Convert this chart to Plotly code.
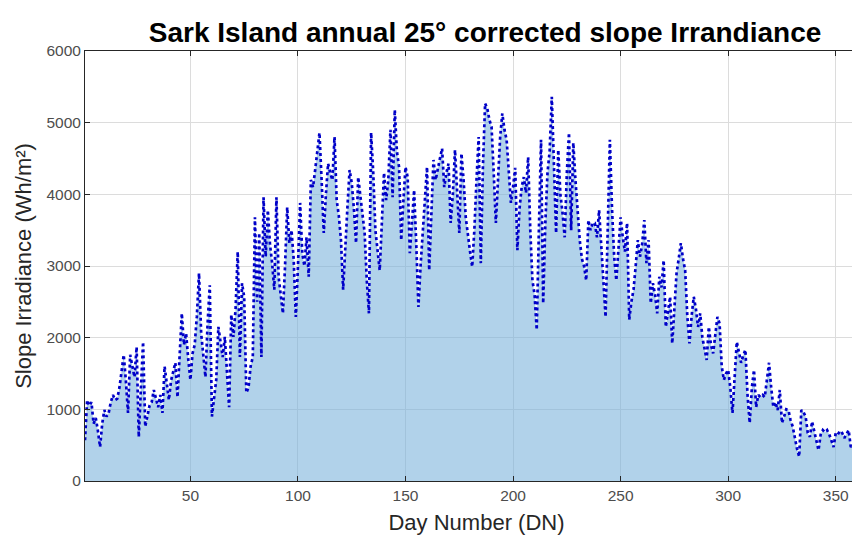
import plotly.graph_objects as go

title_text = "Sark Island annual 25° corrected slope Irrandiance"
x_label = "Day Number (DN)"
y_label = "Slope Irradiance (Wh/m²)"

days = list(range(1, 366))

irradiance = [
    570, 1130, 1050, 1100, 800, 880, 700, 475, 800, 990,
    900, 950, 1100, 1200, 1130, 1150, 1300, 1500, 1760, 1400,
    950, 1760, 1600, 1450, 1870, 615, 1300, 1940, 760, 900,
    1050, 1100, 1270, 1150, 1030, 1200, 950, 1600, 1400, 1130,
    1400, 1550, 1650, 1170, 1800, 2340, 1900, 2060, 1700, 1410,
    1780, 1900, 2300, 2900, 2060, 1700, 1450, 2200, 2730, 900,
    1200, 1410, 2150, 1900, 1730, 2010, 1500, 1030, 2320, 2010,
    2400, 3200, 1730, 2760, 2570, 1230, 1300, 1600, 1730, 3680,
    2500, 3460, 1730, 3960, 3130, 3780, 3300, 3040, 2670, 3960,
    2850, 2600, 2340, 3000, 3820, 3320, 3500, 3100, 2290, 3000,
    3880, 3180, 3000, 3400, 2850, 4200, 4100, 4340, 4600, 4860,
    4200, 3460, 4000, 4430, 4300, 4200, 4800, 3920, 3700, 3360,
    2670, 3300, 3820, 4340, 4160, 3800, 3320, 4240, 4000, 3700,
    3460, 2800, 2340, 4860, 4300, 3500, 3200, 2940, 3600, 4300,
    3920, 4200, 4900, 3960, 5180, 4600, 4380, 3360, 3900, 4380,
    4240, 3180, 3600, 4060, 3300, 2430, 3000, 3460, 3900, 4380,
    2940, 3800, 4480, 4200, 4380, 4500, 4640, 4100, 4300, 4430,
    3600, 4000, 4620, 4100, 3460, 4570, 4200, 3680, 3400, 3200,
    2990, 3500, 4200, 4800, 3040, 4400, 5270, 5200, 5040, 4940,
    4300, 3600, 4200, 4800, 5130, 4900, 4760, 4300, 3880, 4100,
    4370, 3220, 3800, 4100, 4240, 4020, 4520, 3500, 2800, 2600,
    2110, 3500, 4760, 2480, 3600, 4300, 4600, 5360, 4400, 3460,
    4620, 4000, 3740, 3400, 4300, 4860, 3500, 4720, 4200, 3800,
    3360, 3100, 3000, 2800, 3640, 3500, 3600, 3600, 3400, 3780,
    3220, 2700, 2290, 3500, 4760, 3800, 3130, 2800, 3300, 3680,
    3400, 3200, 3600, 2250, 2500, 2670, 3000, 3360, 3130, 3300,
    3640, 3040, 3360, 2480, 2760, 2600, 2340, 2850, 2700, 3080,
    2150, 2400, 2570, 1920, 2500, 2900, 3100, 3320, 3100, 2940,
    2300, 1920, 2300, 2570, 2400, 2150, 2340, 2000, 1850, 1690,
    2150, 1900, 1780, 2000, 2290, 2200, 1600, 1410, 1500, 1550,
    1300, 950, 1500, 1940, 1800, 1650, 1750, 1830, 1200, 810,
    1300, 1550, 1030, 1200, 1170, 1200, 1170, 1400, 1650, 1300,
    1030, 1100, 990, 1270, 810, 900, 1000, 990, 850, 760,
    600, 450, 340, 990, 960, 900, 670, 615, 830, 700,
    600, 430, 650, 710, 680, 710, 650, 550, 475, 670,
    650, 700, 670, 600, 650, 710, 475, 500, 405, 450,
    570, 500, 600, 800, 750,
]

x_ticks = [50, 100, 150, 200, 250, 300, 350]
y_ticks = [0, 1000, 2000, 3000, 4000, 5000, 6000]

fig = go.Figure()
fig.add_trace(go.Scatter(
    x=days, y=irradiance, mode="lines", fill="tozeroy",
    fillcolor="rgba(120,178,218,0.58)", line=dict(width=0),
    hoverinfo="skip", showlegend=False,
))
fig.add_trace(go.Scatter(
    x=days, y=irradiance, mode="lines",
    line=dict(color="#0000c8", width=2.7, dash="dot"),
    showlegend=False,
))

font_family = "Liberation Sans, Arial, sans-serif"
fig.update_layout(
    width=860, height=543,
    margin=dict(l=77, r=0, t=43, b=70),
    paper_bgcolor="white", plot_bgcolor="white",
    font=dict(family=font_family, color="#262626"),
    title=dict(text=f"<b>{title_text}</b>", x=0.5547, xanchor="center",
               y=0.956, yanchor="middle",
               font=dict(size=28, color="#000000", family=font_family)),
)
fig.update_xaxes(
    range=[1, 365], tickvals=x_ticks, ticks="inside", ticklen=5,
    tickcolor="#262626", showline=True, linecolor="#262626", linewidth=1,
    mirror="ticks", showgrid=True, gridcolor="#dcdcdc", gridwidth=1,
    zeroline=False, tickfont=dict(size=15.5, color="#4d4d4d"),
    automargin=False,
    title=dict(text=x_label, font=dict(size=22, color="#262626"), standoff=12),
)
fig.update_yaxes(
    range=[0, 6000], tickvals=y_ticks, ticks="inside", ticklen=5,
    tickcolor="#262626", showline=True, linecolor="#262626", linewidth=1,
    mirror="ticks", showgrid=True, gridcolor="#dcdcdc", gridwidth=1,
    zeroline=False, tickfont=dict(size=15.5, color="#4d4d4d"),
    automargin=False,
    title=dict(text=y_label, font=dict(size=22, color="#262626"), standoff=8),
)

fig.write_html("out.html")
